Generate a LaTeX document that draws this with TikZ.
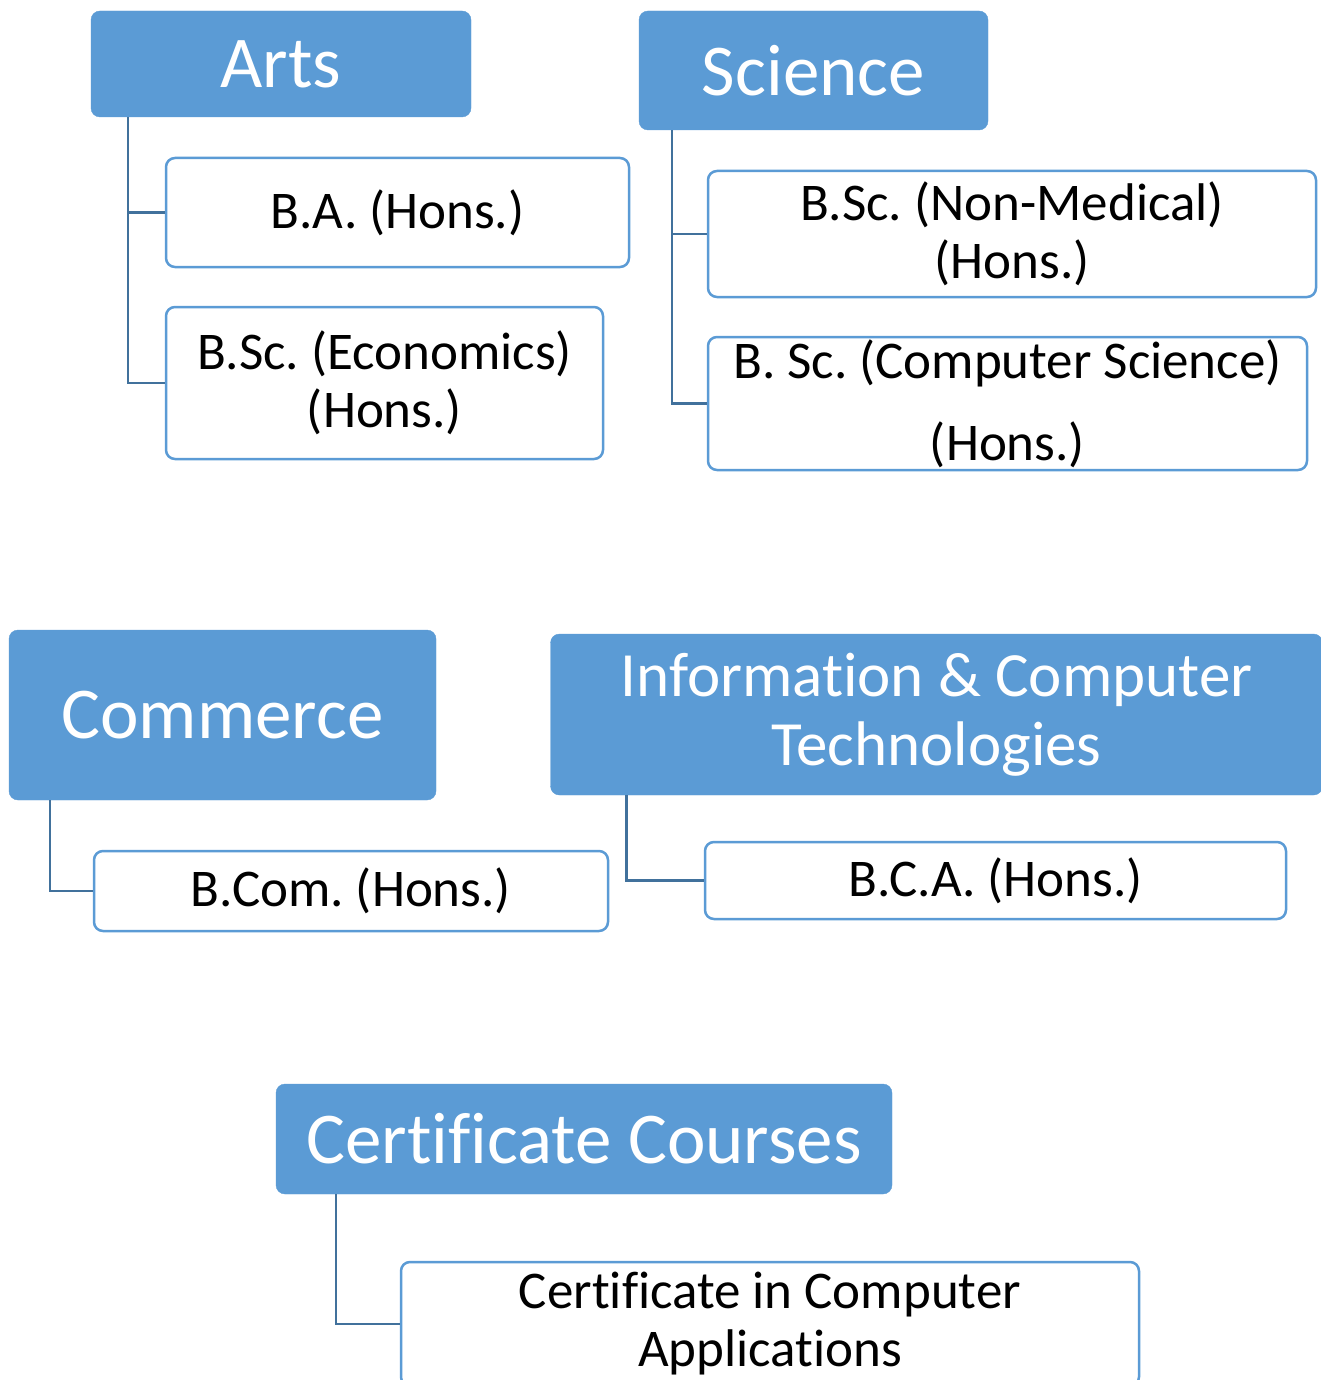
\documentclass[tikz,border=0pt]{standalone}
\usepackage{fontspec}
\setmainfont{Carlito}[Ligatures=NoCommon]
\frenchspacing
\usetikzlibrary{positioning}
\definecolor{headblue}{HTML}{5B9BD5}
\definecolor{linkblue}{HTML}{41719C}
\tikzset{
    headbox/.style = {rectangle, rounded corners=9pt, fill=headblue, draw=headblue, text=white, inner sep=0pt, align=center, font=\fontsize{73}{80}\selectfont},
    subbox/.style = {rectangle, rounded corners=9pt, draw=headblue, line width=2.5pt, fill=white, inner sep=0pt, align=center, font=\fontsize{53}{58}\selectfont},
    boxsize/.style 2 args = {minimum width=#1pt, minimum height=#2pt},
    link/.style = {draw=linkblue, line width=2.5pt}}

\begin{document}
\begin{tikzpicture}[x=1pt,y=-1pt]
        \useasboundingbox (0,0) rectangle (1321,1380);
        % top row
        \node[headbox,boxsize={380}{106}] (arts) at (281,64) {Arts};
        \node[headbox,boxsize={349}{119}] (science) at (813.5,70.5) {Science};
        \node[subbox,boxsize={463}{109}] (ba) at (397.5,212.5) {B.A. (Hons.)};
        \node[subbox,boxsize={437}{152}] (bsceco) at (384.5,383) {B.Sc. (Economics)\\(Hons.)};
        \node[subbox,boxsize={608}{126}] (nonmed) at (1012,234) {B.Sc. (Non-Medical)\\(Hons.)};
        \node[subbox,boxsize={599}{133}] (compsci) at (1007.5,403.5) {B. Sc. (Computer Science)\\[24pt](Hons.)};
        \draw[link] ([xshift=37pt]arts.south west) |- (ba);
        \draw[link] ([xshift=37pt]arts.south west) |- (bsceco);
        \draw[link] ([xshift=33pt]science.south west) |- (nonmed);
        \draw[link] ([xshift=33pt]science.south west) |- (compsci);
        % middle row
        \node[headbox,boxsize={427}{170}] (commerce) at (222.5,715) {Commerce};
        \node[headbox,boxsize={772}{161},font=\fontsize{63}{69}\selectfont] (ict) at (936.5,714.5) {Information \& Computer\\Technologies};
        \node[subbox,boxsize={514}{80}] (bcom) at (351,891) {B.Com. (Hons.)};
        \node[subbox,boxsize={581}{77}] (bca) at (995.5,880.5) {B.C.A. (Hons.)};
        \draw[link] ([xshift=41pt]commerce.south west) |- (bcom);
        \draw[link] ([xshift=76pt]ict.south west) |- (bca);
        % bottom
        \node[headbox,boxsize={616}{110}] (certcourses) at (584,1139) {Certificate Courses};
        \node[subbox,boxsize={738}{124}] (certca) at (770,1324) {Certificate in Computer\\Applications};
        \draw[link] ([xshift=60pt]certcourses.south west) |- (certca);
\end{tikzpicture}
\end{document}
